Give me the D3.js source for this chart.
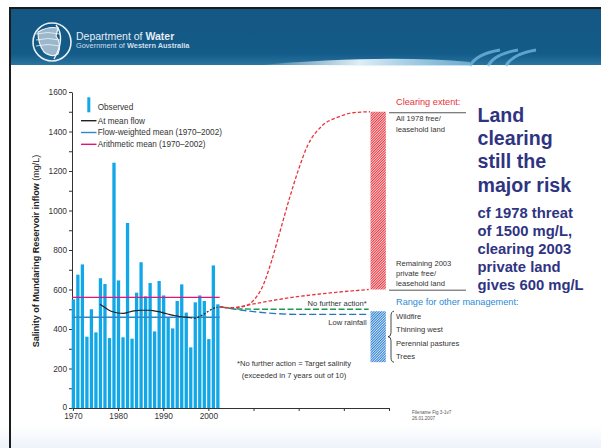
<!DOCTYPE html>
<html><head><meta charset="utf-8">
<script src="https://cdn.jsdelivr.net/npm/d3@7"></script>
<style>
html,body{margin:0;padding:0;background:#fff;}
svg{display:block;font-family:"Liberation Sans",Arial,sans-serif;}
</style></head><body>
<svg id="c" width="601" height="448"></svg>
<script>
// ---------- data ----------
const years = d3.range(1970, 2003);
const observed = [550,675,727,361,500,383,657,628,354,1242,646,358,937,351,584,738,565,633,388,643,570,457,403,542,626,483,307,535,570,542,349,722,525];
const flowWeightedMean = 460;
const arithmeticMean = 560;
const meanFlowYears = [1976,1977,1978,1979,1980,1981,1982,1983,1984,1985,1986,1987,1988,1989,1990,1991,1992,1993,1994,1995,1996];
const meanFlowVals  = [525,510,495,486,481,479,483,489,493,495,495,495,492,488,482,476,470,466,462,460,457];
const meanFlowDotYears = [1996,1997,1998,1999,2000,2001,2002];
const meanFlowDotVals  = [457,455,462,475,490,503,510];
const clearAllYears = [2002.5,2005,2008,2010,2012,2014,2016,2018,2020,2022,2025,2029,2032,2035.8];
const clearAllVals  = [512,507,515,545,615,745,905,1065,1210,1330,1425,1475,1495,1500];
const clear2003Years = [2002.5,2005,2010,2017,2025,2035.5];
const clear2003Vals  = [512,508,527,555,578,600];
const noActionYears = [2002.5,2005,2008,2012,2035.5];
const noActionVals  = [512,505,501,500,500];
const lowRainYears = [2002.5,2006,2010,2015,2020,2035.5];
const lowRainVals  = [513,500,488,478,474,474];
const clearingRange = [600,1500];
const otherRange = [232,490];
const barYears = [2035.9, 2039.3];
const yTicks = d3.range(0, 1601, 100);
const xTicks = d3.range(1970, 2041, 10);
const xLabels = [1970,1980,1990,2000];
const otherLabels = ["Wildfire","Thinning west","Perennial pastures","Trees"];
const bigText = ["Land","clearing","still the","major risk"];
const subText = ["cf 1978 threat","of 1500 mg/L,","clearing 2003","private land","gives 600 mg/L"];

// ---------- setup ----------
const svg = d3.select("#c");
const x = d3.scaleLinear().domain([1969.8, 2040]).range([72, 389]);
const y = d3.scaleLinear().domain([0, 1600]).range([408, 92]);

// ---------- header ----------
const defs = svg.append("defs");
const hg = defs.append("linearGradient").attr("id","hg").attr("x1",0).attr("y1",0).attr("x2",0).attr("y2",1);
hg.append("stop").attr("offset","0").attr("stop-color","#155784");
hg.append("stop").attr("offset","0.8").attr("stop-color","#135b88");
hg.append("stop").attr("offset","1").attr("stop-color","#2a74a0");
const sw = defs.append("linearGradient").attr("id","sw").attr("x1",0).attr("y1",0).attr("x2",1).attr("y2",0);
sw.append("stop").attr("offset","0").attr("stop-color","#ffffff").attr("stop-opacity",0);
sw.append("stop").attr("offset","0.5").attr("stop-color","#e8f4fb").attr("stop-opacity",0.95);
sw.append("stop").attr("offset","1").attr("stop-color","#9fd3f0").attr("stop-opacity",0.6);
const bg = defs.append("linearGradient").attr("id","bg").attr("x1",0).attr("y1",0).attr("x2",0).attr("y2",1);
bg.append("stop").attr("offset","0").attr("stop-color","#ffffff");
bg.append("stop").attr("offset","1").attr("stop-color","#eef3fa");

svg.append("rect").attr("x",0).attr("y",425).attr("width",601).attr("height",23).attr("fill","url(#bg)");
svg.append("rect").attr("x",10).attr("y",9).attr("width",591).attr("height",56).attr("fill","url(#hg)");
svg.append("rect").attr("x",10).attr("y",7).attr("width",591).attr("height",2).attr("fill","#1b1b1b");
svg.append("rect").attr("x",9).attr("y",7).attr("width",2).attr("height",441).attr("fill","#1b1b1b");
// swoosh
svg.append("path").attr("d","M250,66 Q380,54 470,62 L470,66 Z").attr("fill","url(#sw)");
[0,1,2].forEach(i=>{
  svg.append("path").attr("d",`M${470+i*18},66 Q${476+i*18},54 ${500+i*18},50`)
    .attr("fill","none").attr("stroke","#7cc3ea").attr("stroke-width",3).attr("opacity",0.7);
});
// logo
const lg = svg.append("g").attr("transform","translate(52,42)");
lg.append("circle").attr("r",19).attr("fill","none").attr("stroke","#e6eef4").attr("stroke-width",1.6);
lg.append("path").attr("d","M-14,-10 Q-4,-16 6,-14 L4,-6 Q10,2 6,12 Q0,16 -8,10 Q-14,2 -14,-10 Z")
  .attr("fill","#9ab7cc").attr("stroke","#f0f4f8").attr("stroke-width",1.2);
[-8,-2,4].forEach(v=>lg.append("path").attr("d",`M-16,${v} Q-4,${v-3} 8,${v}`).attr("fill","none").attr("stroke","#f0f4f8").attr("stroke-width",0.8));
lg.append("path").attr("d","M4,-17 Q14,-4 2,17").attr("fill","none").attr("stroke","#f0f4f8").attr("stroke-width",1.4);
const t1 = svg.append("text").attr("x",76).attr("y",39.5).attr("fill","#e4edf4").attr("font-size",10.5);
t1.append("tspan").text("Department of ");
t1.append("tspan").attr("font-weight","bold").text("Water");
const t2 = svg.append("text").attr("x",76).attr("y",48).attr("fill","#d0dfea").attr("font-size",7.4);
t2.append("tspan").text("Government of ");
t2.append("tspan").attr("font-weight","bold").text("Western Australia");

// ---------- patterns ----------
function hatch(id, color){
  const p = defs.append("pattern").attr("id",id).attr("patternUnits","userSpaceOnUse")
    .attr("width",1.8).attr("height",1.8).attr("patternTransform","rotate(45)");
  p.append("rect").attr("width",1.8).attr("height",1.8).attr("fill","#fff");
  p.append("rect").attr("width",1.1).attr("height",1.8).attr("fill",color);
}
hatch("hr","#e8333d");
hatch("hb","#2b7fd2");

// ---------- axes ----------
const yAxis = d3.axisLeft(y).tickValues(yTicks).tickSize(3).tickSizeOuter(0)
  .tickFormat(d => d % 200 === 0 ? d : "");
const gy = svg.append("g").attr("transform","translate(72,0)").call(yAxis);
const xAxis = d3.axisBottom(x).tickValues(xTicks).tickSize(3).tickSizeOuter(0)
  .tickFormat(d => xLabels.includes(d) ? d : "");
const gx = svg.append("g").attr("transform","translate(0,408)").call(xAxis);
[gx,gy].forEach(g=>{
  g.selectAll("path,line").attr("stroke","#333").attr("stroke-width",1);
  g.selectAll("text").attr("fill","#333").attr("font-size",8.3).attr("font-family","Liberation Sans, Arial, sans-serif");
});
gx.selectAll("text").attr("dy","0.95em").attr("y",3.5);
gy.selectAll("text").attr("x",-5);
gy.selectAll(".tick").filter(d => d === 0).select("text").attr("dy","0.15em");

// ---------- bars ----------
svg.append("g").selectAll("rect").data(years).join("rect")
  .attr("x", d => x(d) - 1.2).attr("width", 3.3)
  .attr("y", (d,i) => y(observed[i])).attr("height", (d,i) => y(0) - y(observed[i]))
  .attr("fill","#12a8e8");

// mean lines
svg.append("line").attr("x1",72).attr("x2",x(2002)+2.3).attr("y1",y(flowWeightedMean)).attr("y2",y(flowWeightedMean))
  .attr("stroke","#3087c8").attr("stroke-width",1.5);
svg.append("line").attr("x1",72).attr("x2",x(2002)+2.3).attr("y1",y(arithmeticMean)).attr("y2",y(arithmeticMean))
  .attr("stroke","#e2147c").attr("stroke-width",1.3);

const line = d3.line().x(d=>x(d[0])).y(d=>y(d[1])).curve(d3.curveMonotoneX);
svg.append("path").attr("d", line(d3.zip(meanFlowYears, meanFlowVals)))
  .attr("fill","none").attr("stroke","#222").attr("stroke-width",1.2);
svg.append("path").attr("d", line(d3.zip(meanFlowDotYears, meanFlowDotVals)))
  .attr("fill","none").attr("stroke","#222").attr("stroke-width",1.2).attr("stroke-dasharray","2,1.6");

// projections
svg.append("path").attr("d", line(d3.zip(lowRainYears, lowRainVals)))
  .attr("fill","none").attr("stroke","#2477c8").attr("stroke-width",1.4).attr("stroke-dasharray","7,3");
svg.append("path").attr("d", line(d3.zip(noActionYears, noActionVals)))
  .attr("fill","none").attr("stroke","#1e9a52").attr("stroke-width",1.4).attr("stroke-dasharray","6,2.5");
svg.append("path").attr("d", line(d3.zip(clear2003Years, clear2003Vals)))
  .attr("fill","none").attr("stroke","#e8333d").attr("stroke-width",1.3).attr("stroke-dasharray","3.5,2");
svg.append("path").attr("d", line(d3.zip(clearAllYears, clearAllVals)))
  .attr("fill","none").attr("stroke","#e8333d").attr("stroke-width",1.3).attr("stroke-dasharray","3.5,2");

// hatched range bars
svg.append("rect").attr("x",x(barYears[0])).attr("width",x(barYears[1])-x(barYears[0]))
  .attr("y",y(clearingRange[1])).attr("height",y(clearingRange[0])-y(clearingRange[1])).attr("fill","url(#hr)");
svg.append("rect").attr("x",x(barYears[0])).attr("width",x(barYears[1])-x(barYears[0]))
  .attr("y",y(otherRange[1])).attr("height",y(otherRange[0])-y(otherRange[1])).attr("fill","url(#hb)");

// ---------- legend ----------
const L = svg.append("g").attr("font-size",8.2).attr("fill","#333");
L.append("rect").attr("x",87.3).attr("y",97.3).attr("width",3).attr("height",15).attr("fill","#12a8e8");
L.append("text").attr("x",97.7).attr("y",109.5).text("Observed");
const legItems = [["At mean flow","#222",120.7],["Flow-weighted mean (1970\u20132002)","#3087c8",132.5],["Arithmetic mean (1970\u20132002)","#e2147c",144.3]];
legItems.forEach(([t,c,yy])=>{
  L.append("line").attr("x1",81).attr("x2",96.5).attr("y1",yy).attr("y2",yy).attr("stroke",c).attr("stroke-width",1.4);
  L.append("text").attr("x",97.7).attr("y",yy+2.9).text(t);
});

// y label
const yl = svg.append("text").attr("transform","translate(38.5,251) rotate(-90)").attr("text-anchor","middle")
  .attr("font-size",9).attr("fill","#222");
yl.append("tspan").attr("font-weight","bold").text("Salinity of Mundaring Reservoir inflow ");
yl.append("tspan").text("(mg/L)");

// ---------- annotations ----------
const A = svg.append("g").attr("font-size",7.6).attr("fill","#333");
A.append("text").attr("x",366.7).attr("y",306).attr("text-anchor","end").text("No further action*");
A.append("text").attr("x",366.7).attr("y",325).attr("text-anchor","end").text("Low rainfall");
A.append("text").attr("x",294).attr("y",366).attr("text-anchor","middle").text("*No further action = Target salinity");
A.append("text").attr("x",294).attr("y",377.5).attr("text-anchor","middle").text("(exceeded in 7 years out of 10)");

svg.append("text").attr("x",396).attr("y",105).attr("font-size",9.2).attr("fill","#e8333d").text("Clearing extent:");
svg.append("line").attr("x1",389).attr("x2",466).attr("y1",y(clearingRange[1])+1).attr("y2",y(clearingRange[1])+1).attr("stroke","#555").attr("stroke-width",1);
svg.append("line").attr("x1",389).attr("x2",466).attr("y1",y(clearingRange[0])+0.7).attr("y2",y(clearingRange[0])+0.7).attr("stroke","#555").attr("stroke-width",1);
const R = svg.append("g").attr("font-size",7.6).attr("fill","#333");
R.append("text").attr("x",396).attr("y",120.5).text("All 1978 free/");
R.append("text").attr("x",396).attr("y",132).text("leasehold land");
R.append("text").attr("x",396).attr("y",266).text("Remaining 2003");
R.append("text").attr("x",396).attr("y",276).text("private free/");
R.append("text").attr("x",396).attr("y",286).text("leasehold land");
svg.append("text").attr("x",396).attr("y",305).attr("font-size",9.2).attr("fill","#2b8bd6").text("Range for other management:");
otherLabels.forEach((t,i)=>R.append("text").attr("x",396).attr("y",318.5+i*13.6).text(t));
// brace
const bx = 392, bt = y(otherRange[1]), bb = y(otherRange[0]), bm = (bt+bb)/2;
svg.append("path").attr("d",`M${bx+2},${bt} Q${bx-1},${bt} ${bx-1},${bt+5} L${bx-1},${bm-4} Q${bx-1},${bm} ${bx-4},${bm} Q${bx-1},${bm} ${bx-1},${bm+4} L${bx-1},${bb-5} Q${bx-1},${bb} ${bx+2},${bb}`)
  .attr("fill","none").attr("stroke","#333").attr("stroke-width",0.9);

// big text
const B = svg.append("g").attr("fill","#2f3482").attr("font-weight","bold");
bigText.forEach((t,i)=>B.append("text").attr("x",477.5).attr("y",121.7+i*23.3).attr("font-size",19.6).text(t));
subText.forEach((t,i)=>B.append("text").attr("x",477.5).attr("y",217.7+i*18.1).attr("font-size",14.8).text(t));

// footer
const F = svg.append("g").attr("font-size",4.6).attr("fill","#555");
F.append("text").attr("x",412).attr("y",413.5).text("Filename Fig 3-1v7");
F.append("text").attr("x",412).attr("y",420).text("26.01.2007");
</script>
</body></html>
